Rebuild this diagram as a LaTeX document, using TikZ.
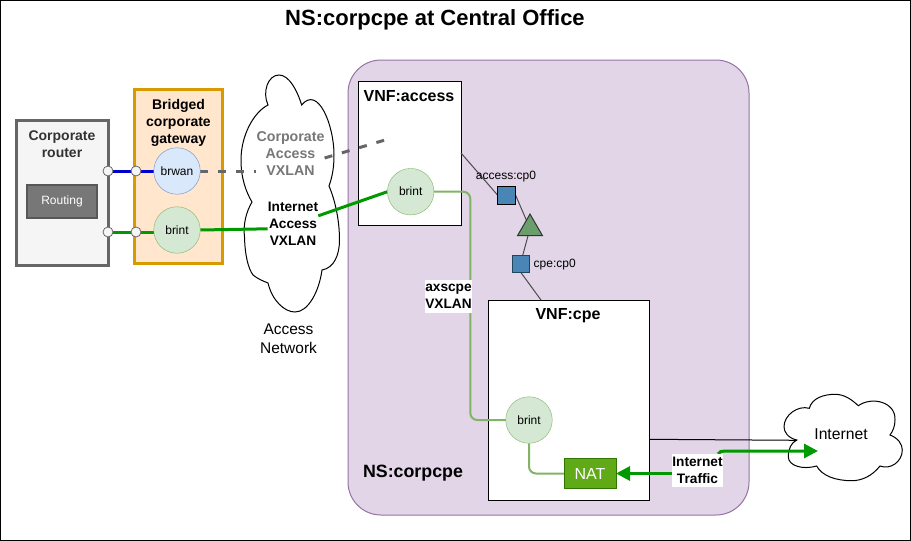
\documentclass[tikz,border=0pt]{standalone}
\usepackage{fontspec}
\setmainfont{Liberation Sans}
\usetikzlibrary{arrows.meta,shapes.geometric}
\definecolor{nsfill}{HTML}{E1D5E7}
\definecolor{nsline}{HTML}{9673A6}
\definecolor{gwfill}{HTML}{FFE6CC}
\definecolor{gwline}{HTML}{D79B00}
\definecolor{rtfill}{HTML}{F5F5F5}
\definecolor{rtline}{HTML}{666666}
\definecolor{bluefill}{HTML}{DAE8FC}
\definecolor{blueline}{HTML}{6C8EBF}
\definecolor{greenfill}{HTML}{D5E8D4}
\definecolor{greenline}{HTML}{82B366}
\definecolor{linkgreen}{HTML}{009900}
\definecolor{linkblue}{HTML}{0000CC}
\definecolor{cpfill}{HTML}{4A86B5}
\definecolor{cpline}{HTML}{23445D}
\definecolor{trifill}{HTML}{6A9F6D}
\definecolor{natfill}{HTML}{60A917}
\definecolor{natline}{HTML}{2D7600}
\definecolor{corptext}{HTML}{333333}
\definecolor{vxgray}{HTML}{777777}
\pgfdeclarelayer{bg}
\pgfdeclarelayer{edges}
\pgfsetlayers{bg,edges,main}
\tikzset{
  boxnode/.style={draw,inner sep=0pt,outer sep=0pt,rectangle},
  bridge/.style={circle,draw,inner sep=0pt,outer sep=0pt,minimum size=46.5pt,font=\fontsize{12}{14}\selectfont},
  brintnode/.style={bridge,fill=greenfill,draw=greenline},
  brwannode/.style={bridge,fill=bluefill,draw=blueline},
  portnode/.style={circle,draw=rtline,fill=rtfill,inner sep=0pt,outer sep=0pt,minimum size=10pt,line width=.8pt},
  cpnode/.style={rectangle,fill=cpfill,inner sep=0pt,outer sep=0pt},
  blabel/.style={inner sep=0pt,align=center,font=\fontsize{13.7}{17}\selectfont\bfseries},
  wlabel/.style={blabel,fill=white},
  thinlink/.style={draw=black!70,line width=1pt},
  softlink/.style={draw=greenline,line width=2pt,rounded corners=7pt},
  greenlink/.style={draw=linkgreen,line width=3pt},
  grayvx/.style={draw=rtline,line width=3pt,dash pattern=on 8pt off 10pt},
  flowtip/.style={-{Triangle[length=14pt,width=14pt]}},
  cloudline/.style={draw=black,line width=1pt,fill=white}
}
\begin{document}
\begin{tikzpicture}[x=1pt,y=-1pt]
\useasboundingbox (0,0) rectangle (911,541);
\begin{pgfonlayer}{bg}
  \draw[black,line width=1.5pt,fill=white] (0.5,0.5) rectangle (910.3,540.5);
  \draw[nsline,fill=nsfill,line width=1pt,rounded corners=33pt] (348,60) rectangle (749,515);
  \node[boxnode,fill=white,minimum width=103pt,minimum height=144pt,line width=1pt] (vnfaccess) at (409.5,153) {};
  \node[boxnode,fill=white,minimum width=161pt,minimum height=200pt,line width=1pt] (vnfcpe) at (568.5,400) {};
  \node[boxnode,draw=rtline,fill=rtfill,line width=3pt,minimum width=92pt,minimum height=145pt] (router) at (62,192.5) {};
  \node[boxnode,draw=gwline,fill=gwfill,line width=3pt,minimum width=88pt,minimum height=174pt] (gateway) at (178.3,176) {};
  % access network cloud
  \draw[cloudline] (301.7,105)
    .. controls (297,90) and (289,75) .. (279,75)
    .. controls (268,75) and (262,92) .. (268,105)
    .. controls (254,112) and (241,135) .. (241,160)
    .. controls (241,178) and (246,192) .. (252,202)
    .. controls (246,212) and (243,225) .. (244.5,237)
    .. controls (245,255) and (248,268) .. (253,275)
    .. controls (258,279) and (263,281) .. (268,283)
    .. controls (272,300) and (284,312) .. (295,312)
    .. controls (308,312) and (319,292) .. (322,270)
    .. controls (334,268) and (339.5,255) .. (339.5,240)
    .. controls (339.5,220) and (335,200) .. (329,186)
    .. controls (333,175) and (334,165) .. (334,155)
    .. controls (334,125) and (318,85) .. (301.7,105) -- cycle;
  % internet cloud
  \draw[cloudline] (809.3,408.3)
    .. controls (812,398) and (824,394.3) .. (835,394.3)
    .. controls (845,394.3) and (852,400) .. (858.3,405.7)
    .. controls (872,396) and (896,402) .. (895,420)
    .. controls (895,426) and (893,431) .. (890,435)
    .. controls (898,438) and (902.3,444) .. (902.3,450)
    .. controls (902.3,462) and (890,470) .. (880,466)
    .. controls (872,476) and (862,480.7) .. (851.7,480.7)
    .. controls (836,480.7) and (822,476) .. (816.7,466)
    .. controls (803,470) and (788.3,466) .. (788.3,456.7)
    .. controls (788.3,449) and (791,443) .. (796.7,440)
    .. controls (788,438) and (784,432) .. (784,426.7)
    .. controls (784,415) and (798,405) .. (809.3,408.3) -- cycle;
\end{pgfonlayer}

\node[inner sep=0pt,font=\fontsize{22}{24}\selectfont\bfseries] (title) at (435,20) {NS:corpcpe at Central Office};
\node[inner sep=0pt,align=center,text=corptext,font=\fontsize{14}{17}\selectfont\bfseries] (routertxt) at (62,144) {Corporate\\router};
\node[boxnode,draw=rtline!85!black,fill=vxgray,line width=1.5pt,minimum width=70pt,minimum height=33pt,text=white,font=\fontsize{12}{14}\selectfont] (routing) at (62,201.5) {\raisebox{-1pt}{Routing}};
\node[inner sep=0pt,align=center,font=\fontsize{14}{17}\selectfont\bfseries] (gwtxt) at (178.5,123) {Bridged\\corporate\\gateway};

\node[portnode] (p1) at (108,171) {};
\node[portnode] (p2) at (136,171) {};
\node[portnode] (p3) at (108,232) {};
\node[portnode] (p4) at (136,232) {};
\node[brwannode] (brwan) at (177,171) {brwan};
\node[brintnode] (brintgw) at (177,230) {brint};
\node[brintnode] (brintacc) at (410.7,191.7) {brint};
\node[brintnode] (brintcpe) at (529,420) {brint};

\node[inner sep=0pt,align=center,text=vxgray,font=\fontsize{14.2}{17}\selectfont\bfseries] (corpvx) at (290.5,153.5) {Corporate\\Access\\VXLAN};
\node[wlabel] (iavx) at (293,223.8) {Internet\\Access\\VXLAN};
\node[inner sep=0pt,align=center,font=\fontsize{15.5}{19}\selectfont] (accnet) at (288.5,338.5) {Access\\Network};
\node[inner sep=0pt,font=\fontsize{15.7}{18}\selectfont] (inet) at (841,434.5) {Internet};

\node[inner sep=0pt,font=\fontsize{16}{18}\selectfont\bfseries] (accname) at (409,95.7) {VNF:access};
\node[inner sep=0pt,font=\fontsize{16}{18}\selectfont\bfseries] (cpename) at (568,316) {VNF:cpe};
\node[inner sep=0pt,font=\fontsize{17.8}{20}\selectfont\bfseries] (nsname) at (413,473) {NS:corpcpe};

\node[cpnode,draw=black,line width=1pt,minimum size=18pt] (accp) at (506.5,195) {};
\node[cpnode,draw=cpline,line width=1pt,minimum size=17pt] (cpcp) at (520.5,263.5) {};
\node[inner sep=0pt,font=\fontsize{12}{14}\selectfont] (acclabel) at (506,177) {access:cp0};
\node[inner sep=0pt,anchor=west,font=\fontsize{12}{14}\selectfont] (cpelabel) at (533.5,264.5) {cpe:cp0};
\node[regular polygon,regular polygon sides=3,draw=black!80,fill=trifill,line width=1pt,inner sep=0pt,outer sep=0pt,minimum size=28.9pt] (tri) at (530,228.5) {};

\node[boxnode,draw=natline,fill=natfill,line width=1pt,minimum width=52pt,minimum height=30.5pt,text=white,font=\fontsize{16}{18}\selectfont] (nat) at (590,473.5) {NAT};
\node[wlabel,minimum width=47pt,minimum height=33pt] (axvx) at (448.5,296) {axscpe\\VXLAN};
\node[wlabel,minimum width=51pt,minimum height=33pt] (itraffic) at (697.5,470.8) {Internet\\Traffic};

\coordinate (corpend) at (385,140);
\coordinate (inettip) at (818,451);
\coordinate (cloudnotch) at (797,440.3);
\coordinate (trafstart) at (718,454);

\begin{pgfonlayer}{edges}
  \draw[draw=linkblue,line width=3pt] (p1.center) -- (brwan.west);
  \draw[greenlink] (p3.center) -- (brintgw.west |- p3);
  \draw[greenlink] (brintgw.east) -- ([yshift=-5pt]iavx.west);
  \draw[greenlink] ([yshift=8pt]iavx.east) -- (brintacc.west);
  \draw[grayvx] (brwan.east) -- (brwan.east -| corpvx.west);
  \draw[grayvx] ([yshift=-4.5pt]corpvx.east) -- (corpend);
  \draw[softlink] (brintacc.east) -- (470.3,191.7) -- (470.3,420) -- (brintcpe.west);
  \draw[softlink] (brintcpe.south) -- (529,473.5) -- (nat.west);
  \draw[thinlink] (vnfaccess.east) -- (accp.west);
  \draw[thinlink] (accp.east) -- (tri.center);
  \draw[thinlink] (tri.center) -- (cpcp.center);
  \draw[thinlink] (cpcp.south) -- ([xshift=-27.5pt]vnfcpe.north);
  \draw[draw=black,line width=1pt] ([yshift=-39.3pt]vnfcpe.east) -- (cloudnotch);
  \draw[greenlink,flowtip] (itraffic.west |- nat) -- (nat.east);
  \draw[greenlink,flowtip] (trafstart) .. controls (719,451.5) and (722,451) .. (725,451) -- (inettip);
\end{pgfonlayer}
\end{tikzpicture}
\end{document}
